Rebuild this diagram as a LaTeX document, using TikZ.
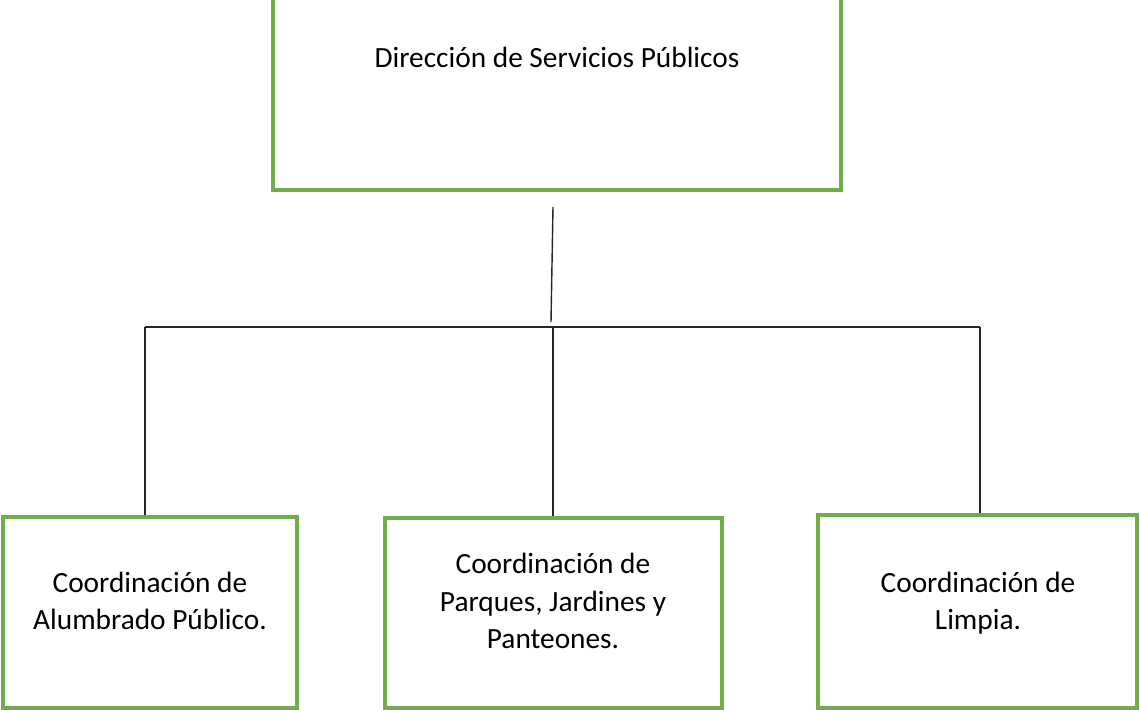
\documentclass[tikz,border=0pt]{standalone}
\usepackage{fontspec}
\setmainfont{Carlito}
\usepackage{tikz}
\usetikzlibrary{positioning, calc, fit}
\definecolor{boxgreen}{RGB}{112,173,71}
\tikzset{
	every text node part/.style = {align=center},
	unitbox/.style = {draw=boxgreen, line width=2pt, inner sep=0pt},
	unittext/.style = {font=\fontsize{16.7}{21.3}\selectfont, inner sep=0pt},
	link/.style = {line width=0.8pt, black!85}
}

\begin{document}
\begin{tikzpicture}[x=0.02cm, y=-0.02cm]
	\useasboundingbox (0,0) rectangle (1140,710);
	
	% top box (its upper edge runs off the page)
	\node [unitbox, fit={(273,-20) (841,190)}] (dir) {};
	\node [unittext] (dirT) at (557,57) {Dirección de Servicios Públicos};
	
	% bottom boxes
	\node [unitbox, fit={(3,517) (297,708)}] (alum) {};
	\node [unittext] (alumT) at (150,601) {Coordinación de\\Alumbrado Público.};
	
	\node [unitbox, fit={(385,518) (722,708)}] (parq) {};
	\node [unittext] (parqT) at (553,601) {Coordinación de\\Parques, Jardines y\\Panteones.};
	
	\node [unitbox, fit={(818,515) (1137,708)}] (limp) {};
	\node [unittext] (limpT) at (978,603) {Coordinación de\\Limpia.};
	
	% connectors
	\coordinate (stemTop) at (553,207);
	\coordinate (stemBot) at (551,322);
	\coordinate (busL) at (145,327);
	\coordinate (busM) at (553,327);
	\coordinate (busR) at (980,327);
	
	\draw [link] (stemTop) -- (stemBot);
	\draw [link] (busL) -- (busR);
	\draw [link] (busL) -- (busL |- alum.north);
	\draw [link] (busM) -- (busM |- parq.north);
	\draw [link] (busR) -- (busR |- limp.north);
	
\end{tikzpicture}
\end{document}
